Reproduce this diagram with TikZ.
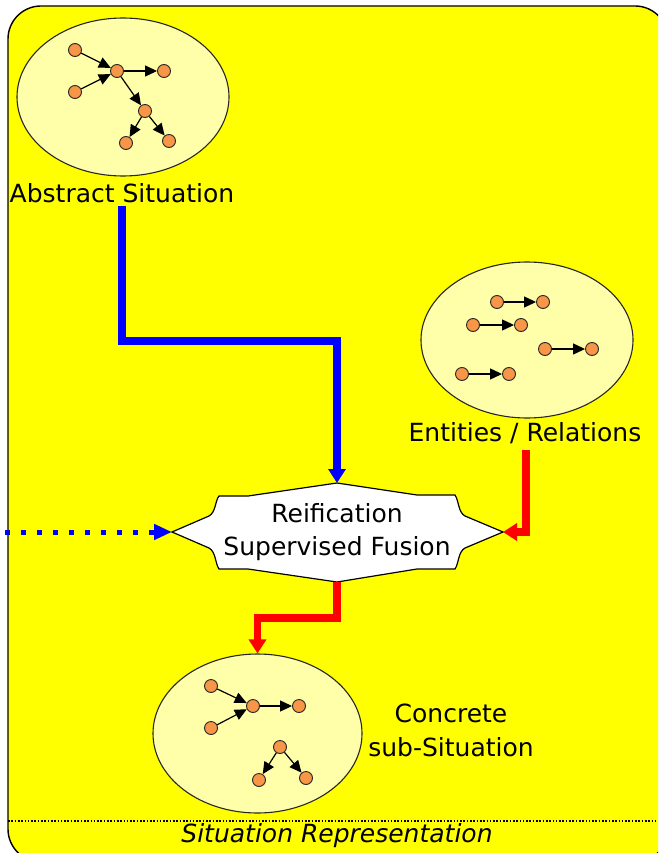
\documentclass[tikz,border=0pt]{standalone}
\usepackage{fontspec}
\setmainfont{DejaVu Sans}
\usepackage{tikz}
\usetikzlibrary{calc,shapes.geometric,arrows.meta}
\definecolor{sitbg}{RGB}{255,255,0}
\definecolor{bubblefill}{RGB}{255,255,170}
\definecolor{dotorange}{RGB}{247,150,70}
\definecolor{flowblue}{RGB}{0,0,255}
\definecolor{flowred}{RGB}{255,0,0}
\tikzstyle{bubble} = [ellipse, draw=black!85, line width=1.1pt, fill=bubblefill, inner sep=0pt]
\tikzstyle{entity} = [circle, draw=black!85, line width=0.9pt, fill=dotorange, minimum size=13pt, inner sep=0pt]
\tikzstyle{relation} = [line width=1.2pt, -{Triangle[length=12pt,width=11pt]}]
\tikzstyle{caption} = [font=\fontsize{25}{33}\selectfont, align=center, inner sep=0pt]
\tikzstyle{flow} = [line width=7.5pt, -{Triangle[length=14pt,width=17pt]}]
\tikzstyle{feed} = [line width=5pt, flowblue, dash pattern=on 5pt off 11pt, -{Triangle[length=18pt,width=15pt]}]

\begin{document}
\begin{tikzpicture}[x=1pt, y=-1pt]
        \useasboundingbox (0,0) rectangle (658,853);
        \clip (0,0) rectangle (658,853);
        \draw [fill=sitbg, line width=1.4pt, rounded corners=33pt] (8,6) rectangle (668,862);
        \coordinate (sep-w) at (8,821);
        \coordinate (sep-e) at (658,821);
        \draw [line width=1.6pt, dash pattern=on 1.6pt off 1.7pt] (sep-w) -- (sep-e);
        \node (sit-label) [caption, font=\fontsize{25}{33}\selectfont\itshape] at (337,836) {Situation Representation};
        % abstract situation
        \node (abstract) [bubble, minimum width=212pt, minimum height=158pt] at (123,97) {};
        \node (a1) [entity] at (75,50) {};
        \node (a2) [entity] at (117,71) {};
        \node (a3) [entity] at (164,71) {};
        \node (a4) [entity] at (75,92) {};
        \node (a5) [entity] at (145,111) {};
        \node (a6) [entity] at (126,143) {};
        \node (a7) [entity] at (169,141) {};
        \draw [relation] (a1) -- (a2);
        \draw [relation] (a4) -- (a2);
        \draw [relation] (a2) -- (a3);
        \draw [relation] (a2) -- (a5);
        \draw [relation] (a5) -- (a6);
        \draw [relation] (a5) -- (a7);
        \node (abstract-label) [caption] at (122,193) {Abstract Situation};
        % entities / relations
        \node (entities) [bubble, minimum width=212pt, minimum height=156pt] at (527,340) {};
        \node (e1) [entity] at (497,302) {};
        \node (e2) [entity] at (543,302) {};
        \node (e3) [entity] at (473,325) {};
        \node (e4) [entity] at (521,325) {};
        \node (e5) [entity] at (545,349) {};
        \node (e6) [entity] at (592,349) {};
        \node (e7) [entity] at (462,374) {};
        \node (e8) [entity] at (509,374) {};
        \draw [relation] (e1) -- (e2);
        \draw [relation] (e3) -- (e4);
        \draw [relation] (e5) -- (e6);
        \draw [relation] (e7) -- (e8);
        \node (entities-label) [caption] at (525,433) {Entities / Relations};
        % fusion step
        \coordinate (fusion-c) at (337,532);
        \begin{scope}[shift={(fusion-c)}]
            \draw [fill=white, line width=1.2pt] (-165,0) -- (-128,-16) .. controls (-121,-20) and (-122,-31) .. (-118,-36) -- (-89,-36) -- (0,-49) -- (80,-37) -- (118,-37) .. controls (122,-31) and (121,-20) .. (128,-16) -- (166,0) -- (128,16) .. controls (121,20) and (122,31) .. (118,37) -- (80,37) -- (0,50) -- (-89,37) -- (-118,37) .. controls (-122,31) and (-121,20) .. (-128,16) -- cycle;
            \coordinate (fusion-w) at (-165,0);
            \coordinate (fusion-e) at (166,0);
            \coordinate (fusion-n) at (0,-49);
            \coordinate (fusion-s) at (0,50);
        \end{scope}
        \node (fusion) [caption] at (fusion-c) {Reification\\Supervised Fusion};
        % concrete sub-situation
        \node (concrete) [bubble, minimum width=209pt, minimum height=159pt] at (257.5,733.5) {};
        \node (c1) [entity] at (211,686) {};
        \node (c2) [entity] at (211,728) {};
        \node (c3) [entity] at (253,706) {};
        \node (c4) [entity] at (299,706) {};
        \node (c5) [entity] at (280,747) {};
        \node (c6) [entity] at (259,780) {};
        \node (c7) [entity] at (306,778) {};
        \draw [relation] (c1) -- (c3);
        \draw [relation] (c2) -- (c3);
        \draw [relation] (c3) -- (c4);
        \draw [relation] (c5) -- (c6);
        \draw [relation] (c5) -- (c7);
        \node (concrete-label) [caption, font=\fontsize{25}{34}\selectfont] at (451,730) {Concrete\\sub-Situation};
        % flows
        \coordinate (feed-in) at (5,532);
        \draw [feed] (feed-in) -- (fusion-w);
        \draw [flow, flowblue] ($(abstract-label.south)+(0,3)$) -- ++(0,135) -| (fusion-n);
        \draw [flow, flowred] ($(entities-label.south)+(1,6)$) |- (fusion-e);
        \draw [flow, flowred] (fusion-s) -- ++(0,36) -| (concrete.north);
    \end{tikzpicture}
\end{document}
